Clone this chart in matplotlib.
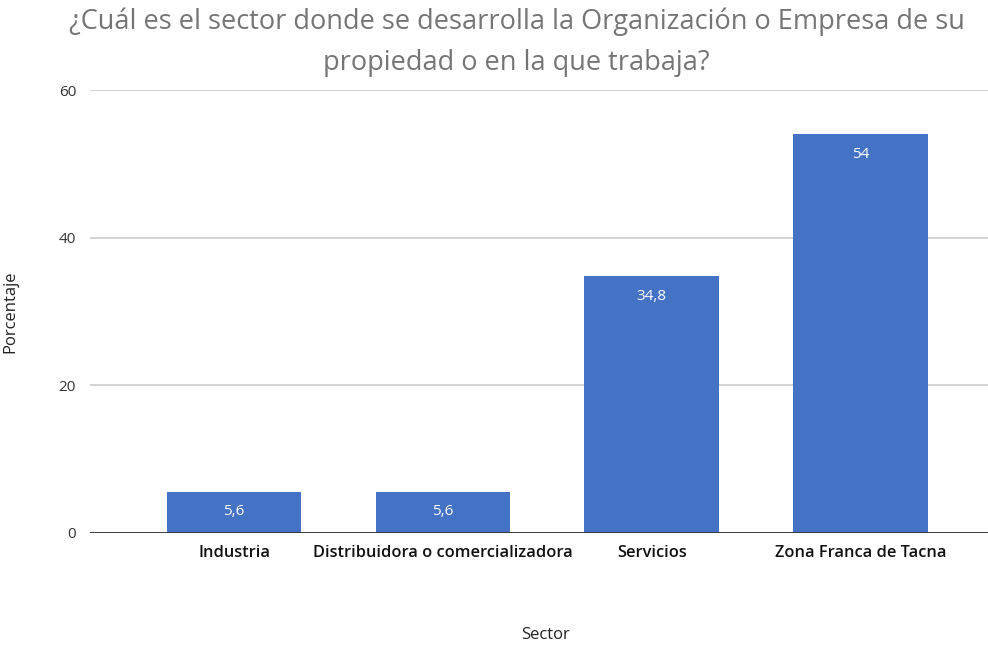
import matplotlib.pyplot as plt

plt.rcParams['font.family'] = ['Open Sans', 'DejaVu Sans']

# datos
sectores = ['Industria', 'Distribuidora o comercializadora', 'Servicios', 'Zona Franca de Tacna']
porcentajes = [5.6, 5.6, 34.8, 54]
etiquetas = ['5,6', '5,6', '34,8', '54']
yticks = [0, 20, 40, 60]

fig = plt.figure(figsize=(9.88, 6.48), dpi=100)
ax = fig.add_axes([0.0911, 0.1775, 0.9089, 0.6836])

x = range(len(sectores))
bars = ax.bar(x, porcentajes, width=0.645, color='#4472C4', zorder=3)

for b, t in zip(bars, etiquetas):
    ax.annotate(t, (b.get_x() + b.get_width() / 2, b.get_height()),
                xytext=(0, -9), textcoords='offset points',
                ha='center', va='top', color='white', fontsize=11)

ax.set_xlim(-0.69, 3.61)
ax.set_ylim(0, 60)
ax.set_yticks(yticks)
ax.set_yticklabels([str(v) for v in yticks], fontsize=11, color='#333333')
ax.set_xticks(list(x))
ax.set_xticklabels(sectores, fontsize=11.8, fontweight='semibold', color='#111111')
ax.tick_params(axis='y', length=0, pad=10)
ax.tick_params(axis='x', length=0, pad=9)

ax.grid(True, axis='y', color='#cccccc', linewidth=1.2, zorder=0)
ax.axhline(0, color='#333333', linewidth=1.3, zorder=4)
for s in ax.spines.values():
    s.set_visible(False)

ax.set_xlabel('Sector', fontsize=12, color='#222222')
ax.set_ylabel('Porcentaje', fontsize=12, color='#222222')
ax.xaxis.set_label_coords(0.507, -0.212)
ax.yaxis.set_label_coords(-0.080, 0.5)

fig.suptitle('¿Cuál es el sector donde se desarrolla la Organización o Empresa de su\npropiedad o en la que trabaja?',
             x=0.523, y=0.988, fontsize=19.5, color='#757575', linespacing=1.6)

fig.savefig('out.png', dpi=100)
